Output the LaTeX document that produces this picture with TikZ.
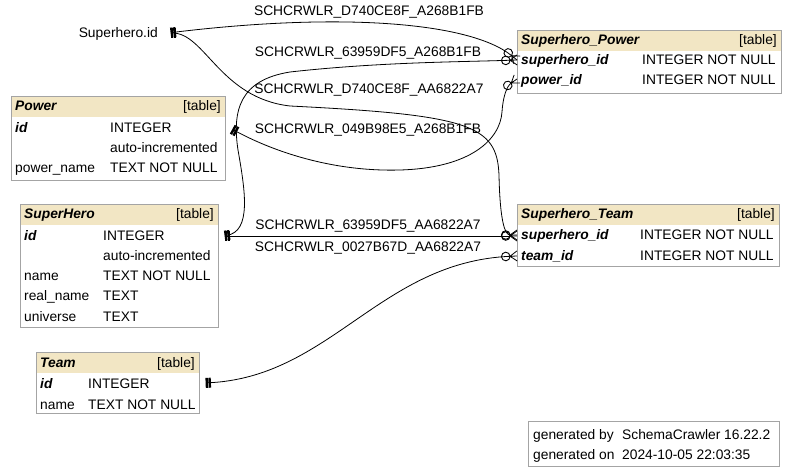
\documentclass[tikz,border=0pt]{standalone}
\usepackage{fontspec}
\setmainfont{Liberation Sans}
\usetikzlibrary{arrows.meta,calc}
\definecolor{headfill}{HTML}{F2E6C4}
\definecolor{boxline}{HTML}{A4A4A4}
\newcommand{\dfont}{\fontsize{13.8}{16}\selectfont}
% crow's foot tip with middle prong
\pgfdeclarearrow{
  name = Crow,
  parameters = {\the\pgfarrowlength,\the\pgfarrowwidth,\the\pgfarrowlinewidth},
  setup code = {
    \pgfarrowssettipend{0pt}
    \pgfarrowssetbackend{-\pgfarrowlength}
    \pgfarrowssetlineend{-\pgfarrowlength}
    \pgfarrowshullpoint{0pt}{0.5\pgfarrowwidth}
    \pgfarrowshullpoint{0pt}{-0.5\pgfarrowwidth}
    \pgfarrowshullpoint{-\pgfarrowlength}{0pt}
    \pgfarrowssavethe\pgfarrowlength
    \pgfarrowssavethe\pgfarrowwidth
  },
  drawing code = {
    \pgfpathmoveto{\pgfqpoint{0pt}{0.5\pgfarrowwidth}}
    \pgfpathlineto{\pgfqpoint{-\pgfarrowlength}{0pt}}
    \pgfpathlineto{\pgfqpoint{0pt}{-0.5\pgfarrowwidth}}
    \pgfpathmoveto{\pgfqpoint{-\pgfarrowlength}{0pt}}
    \pgfpathlineto{\pgfqpoint{0pt}{0pt}}
    \pgfusepathqstroke
  },
  defaults = {length = 7pt, width = 10pt}
}
\tikzset{
  tbox/.style={draw=boxline, line width=1pt, fill=white, anchor=north west, inner sep=0},
  thead/.style={fill=headfill, anchor=north west, inner sep=0, minimum height=20pt},
  cell/.style={anchor=west, inner sep=0, text height=10pt, text depth=0pt, font=\dfont},
  key/.style={cell, font=\dfont\bfseries\itshape},
  tag/.style={cell, anchor=east},
  fklabel/.style={inner sep=0, font=\dfont},
  rel/.style={line width=0.8pt,
    {Bar[width=10pt,line width=2.4pt,sep=2.6pt]Bar[width=10pt,line width=2.4pt,sep=0.5pt]}-{Circle[open,length=9.5pt,width=9.5pt,line width=0.9pt,sep=-0.5pt]Crow[length=7pt,width=10pt,line width=1.5pt]}}
}

\begin{document}
\begin{tikzpicture}[x=1pt,y=-1pt]
  \useasboundingbox (0,0) rectangle (793,473);

  % Superhero.id reference
  \node[cell, anchor=east] (shidtext) at (158,33) {Superhero.id};
  \coordinate (shid) at (168,33);

  % Power
  \node[tbox, minimum width=214pt, minimum height=84pt] (power) at (11,96) {};
  \node[thead, minimum width=213pt] at (11.5,96.5) {};
  \node[key] (power-title) at (15,106) {Power};
  \node[tag] at (221,106) {[table]};
  \node[key] (power-id) at (15,128) {id};
  \node[cell] at (110,128) {INTEGER};
  \node[cell] at (110,148) {auto-incremented};
  \node[cell] (power-name) at (15,168) {power\_name};
  \node[cell] at (110,168) {TEXT NOT NULL};

  % SuperHero
  \node[tbox, minimum width=198pt, minimum height=123pt] (hero) at (20,204) {};
  \node[thead, minimum width=197pt] at (20.5,204.5) {};
  \node[key] (hero-title) at (24,214) {SuperHero};
  \node[tag] at (214,214) {[table]};
  \node[key] (hero-id) at (24,236) {id};
  \node[cell] at (103,236) {INTEGER};
  \node[cell] at (103,256) {auto-incremented};
  \node[cell] (hero-name) at (24,276) {name};
  \node[cell] at (103,276) {TEXT NOT NULL};
  \node[cell] (hero-real) at (24,296) {real\_name};
  \node[cell] at (103,296) {TEXT};
  \node[cell] (hero-univ) at (24,316) {universe};
  \node[cell] at (103,316) {TEXT};

  % Team
  \node[tbox, minimum width=163pt, minimum height=61pt] (team) at (36,352) {};
  \node[thead, minimum width=162pt] at (36.5,352.5) {};
  \node[key] (team-title) at (40,362) {Team};
  \node[tag] at (195,362) {[table]};
  \node[key] (team-id) at (40,383) {id};
  \node[cell] at (88,383) {INTEGER};
  \node[cell] (team-name) at (40,404) {name};
  \node[cell] at (88,404) {TEXT NOT NULL};

  % Superhero_Power
  \node[tbox, minimum width=264pt, minimum height=63pt] (spower) at (517,30) {};
  \node[thead, minimum width=263pt] at (517.5,30.5) {};
  \node[key] (spower-title) at (521,40) {Superhero\_Power};
  \node[tag] at (777,40) {[table]};
  \node[key] (spower-sid) at (521,60) {superhero\_id};
  \node[cell] at (642,60) {INTEGER NOT NULL};
  \node[key] (spower-pid) at (521,80) {power\_id};
  \node[cell] at (642,80) {INTEGER NOT NULL};

  % Superhero_Team
  \node[tbox, minimum width=262pt, minimum height=62pt] (steam) at (517,204) {};
  \node[thead, minimum width=261pt] at (517.5,204.5) {};
  \node[key] (steam-title) at (521,214) {Superhero\_Team};
  \node[tag] at (775,214) {[table]};
  \node[key] (steam-sid) at (521,235) {superhero\_id};
  \node[cell] at (640,235) {INTEGER NOT NULL};
  \node[key] (steam-tid) at (521,256) {team\_id};
  \node[cell] at (640,256) {INTEGER NOT NULL};

  % footer
  \node[tbox, minimum width=251pt, minimum height=45pt] (footer) at (528,421) {};
  \node[cell] (gen-by) at (533,434) {generated by};
  \node[cell] at (622,434) {SchemaCrawler 16.22.2};
  \node[cell] (gen-on) at (533,454) {generated on};
  \node[cell] at (622,454) {2024-10-05 22:03:35};

  % foreign key labels
  \node[fklabel] (fk1) at (369,12) {SCHCRWLR\_D740CE8F\_A268B1FB};
  \node[fklabel] (fk2) at (368,53) {SCHCRWLR\_63959DF5\_A268B1FB};
  \node[fklabel] (fk3) at (369,90) {SCHCRWLR\_D740CE8F\_AA6822A7};
  \node[fklabel] (fk4) at (368,130) {SCHCRWLR\_049B98E5\_A268B1FB};
  \node[fklabel] (fk5) at (368,226) {SCHCRWLR\_63959DF5\_AA6822A7};
  \node[fklabel] (fk6) at (368,248) {SCHCRWLR\_0027B67D\_AA6822A7};

  % relationships
  \draw[rel] (shid) .. controls (340,12) and (470,22) .. (spower.west |- spower-sid);
  \draw[rel] ($(hero.east |- hero-id)+(3,0)$) .. controls (252,232) and (245,190) .. (238,150)
    .. controls (232,110) and (240,80) .. (290,72) .. controls (380,62) and (460,62) .. (spower.west |- spower-sid);
  \draw[rel] (shid) .. controls (205,33) and (220,98) .. (290,106)
    .. controls (470,115) and (497,125) .. (499,175) .. controls (500,222) and (505,235) .. (steam.west |- steam-sid);
  \draw[rel] ($(power.east |- power-id)+(4,0)$) .. controls (270,150) and (330,172) .. (400,170)
    .. controls (470,168) and (500,140) .. (502,112) .. controls (503,96) and (507,86) .. ($(spower.west |- spower-pid)+(0,-1)$);
  \draw[rel] ($(hero.east |- hero-id)+(3,0)$) -- (steam.west |- hero-id);
  \draw[rel] ($(team.east |- team-id)+(3,0)$) .. controls (330,378) and (380,262) .. (steam.west |- steam-tid);
\end{tikzpicture}
\end{document}
